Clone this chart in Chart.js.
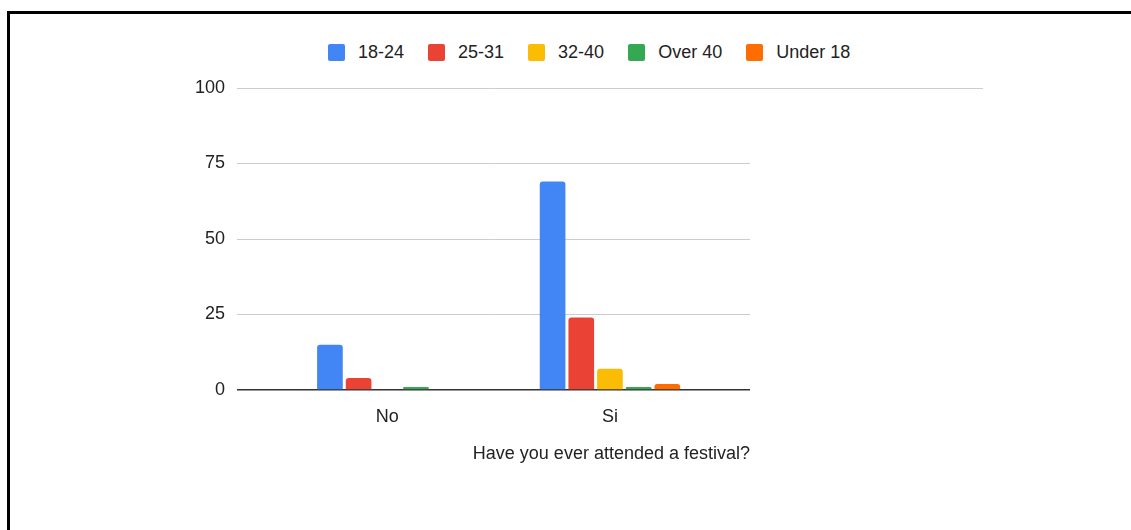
<!DOCTYPE html>
<html>
<head>
<meta charset="utf-8">
<script src="https://cdn.jsdelivr.net/npm/chart.js@4.4.0/dist/chart.umd.min.js"></script>
<style>
  html, body { margin: 0; padding: 0; background: #fff; overflow: hidden; }
  body { width: 1131px; height: 530px; position: relative; font-family: "Liberation Sans", Arial, sans-serif; }
  .frame { position: absolute; left: 7px; top: 11px; width: 1200px; height: 600px; border-top: 3px solid #000; border-left: 3px solid #000; }
  #chart { position: absolute; left: 0; top: 0; }
  #legend { position: absolute; left: 328px; top: 43px; display: flex; align-items: center; font-size: 18px; line-height: 18px; color: #222; }
  .item { display: flex; align-items: center; margin-right: 24px; }
  .swatch { width: 17px; height: 17px; border-radius: 2px; margin-right: 13px; }
</style>
</head>
<body>
<div class="frame"></div>
<div id="legend"></div>
<canvas id="chart" width="1131" height="530"></canvas>
<script>
const categories = ["No", "Si"];
const ageGroups = ["18-24", "25-31", "32-40", "Over 40", "Under 18"];
const age18to24 = [15, 69];
const age25to31 = [4, 24];
const age32to40 = [0, 7];
const ageOver40 = [1, 1];
const ageUnder18 = [0, 2];
const yTicks = [0, 25, 50, 75, 100];
const colors = ["#4285f4", "#ea4335", "#fbbc04", "#34a853", "#ff6d01"];

const font = { family: '"Liberation Sans", Arial, sans-serif', size: 18 };
const textColor = "#222";

const series = [age18to24, age25to31, age32to40, ageOver40, ageUnder18];
const datasets = series.map((values, i) => ({
  label: ageGroups[i],
  data: values.map((v, idx) => ({ x: idx, y: v })),
  backgroundColor: colors[i],
  borderRadius: 3,
  categoryPercentage: 0.644,
  barPercentage: 0.895
}));

// top gridline runs further right than the plot
const topLineExtension = {
  id: "topLineExtension",
  beforeDatasetsDraw(chart) {
    const { ctx, chartArea, scales: { y } } = chart;
    const py = Math.round(y.getPixelForValue(y.max)) + 0.5;
    ctx.save();
    ctx.strokeStyle = "#ccc";
    ctx.lineWidth = 1;
    ctx.beginPath();
    ctx.moveTo(chartArea.right, py);
    ctx.lineTo(chartArea.right + 233, py);
    ctx.stroke();
    ctx.restore();
  }
};

const chart = new Chart(document.getElementById("chart"), {
  type: "bar",
  data: { datasets },
  plugins: [topLineExtension],
  options: {
    responsive: false,
    animation: false,
    devicePixelRatio: 1,
    layout: { padding: { left: 177, right: 381, top: 88, bottom: 0 } },
    plugins: { legend: { display: false }, tooltip: { enabled: false } },
    scales: {
      x: {
        type: "linear",
        offset: false,
        min: -0.675,
        max: 1.629,
        afterBuildTicks: s => { s.ticks = categories.map((c, i) => ({ value: i })); },
        afterFit: s => { s.height = 140; },
        ticks: { callback: v => categories[v], font, color: textColor, padding: 8, autoSkip: false, maxRotation: 0 },
        grid: { display: false },
        border: { display: false },
        title: {
          display: true,
          text: "Have you ever attended a festival?",
          align: "end",
          font,
          color: textColor,
          padding: { top: 0, bottom: 65 }
        }
      },
      y: {
        min: 0,
        max: 100,
        afterBuildTicks: s => { s.ticks = yTicks.map(v => ({ value: v })); },
        afterFit: s => { s.width = 60; },
        ticks: { font, color: textColor, padding: 12 },
        grid: {
          color: c => c.tick.value === 0 ? "#333" : "#ccc",
          lineWidth: c => c.tick.value === 0 ? 1.5 : 1,
          drawTicks: false
        },
        border: { display: false }
      }
    }
  }
});

// legend built from the chart's datasets
const legend = document.getElementById("legend");
chart.data.datasets.forEach(ds => {
  const item = document.createElement("div");
  item.className = "item";
  const sw = document.createElement("span");
  sw.className = "swatch";
  sw.style.background = ds.backgroundColor;
  const label = document.createElement("span");
  label.textContent = ds.label;
  item.appendChild(sw);
  item.appendChild(label);
  legend.appendChild(item);
});
</script>
</body>
</html>
